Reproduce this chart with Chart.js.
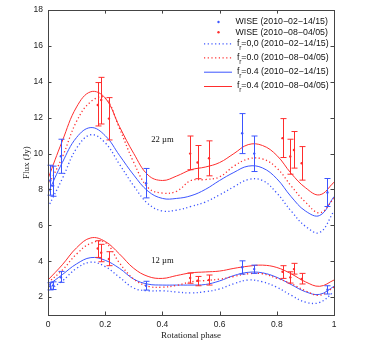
<!DOCTYPE html>
<html><head><meta charset="utf-8">
<script src="https://cdn.jsdelivr.net/npm/chart.js@4.4.0/dist/chart.umd.min.js"></script>
<style>html,body{margin:0;padding:0;background:#fff;}</style>
</head><body>
<canvas id="c" width="368" height="348" style="width:368px;height:348px;display:block"></canvas>
<script>
// ---- Data ----
const phaseGrid = [0,0.05,0.1,0.15,0.2,0.25,0.3,0.35,0.4,0.45,0.5,0.55,0.6,0.65,0.7,0.75,0.8,0.85,0.9,0.95,1.0];
// 22 micron model curves
const redSolid22  = [8.6,10.7,12.6,13.45,13.1,11.5,10.0,8.8,8.5,8.75,9.1,9.25,9.5,10.0,10.5,10.45,9.9,8.9,8.1,7.7,8.4];
const redDot22    = [8.2,9.8,11.8,12.9,13.1,11.4,9.5,8.1,7.8,7.9,8.5,8.55,8.7,9.3,9.7,9.7,9.2,8.2,7.3,6.7,7.5];
const blueSolid22 = [7.8,9.5,10.9,11.45,11.0,9.9,8.8,7.9,7.5,7.5,7.65,8.0,8.5,8.95,9.3,9.2,8.6,7.6,6.8,6.55,7.6];
const blueDot22   = [7.0,8.6,10.3,11.05,10.6,9.4,8.2,7.2,6.8,6.85,7.05,7.3,7.7,8.15,8.55,8.5,7.8,6.8,5.95,5.6,6.8];
// 12 micron model curves
const redSolid12  = [2.95,3.8,4.75,5.3,5.1,4.4,3.6,3.15,3.04,3.2,3.35,3.4,3.45,3.6,3.72,3.78,3.65,3.3,2.85,2.6,2.95];
const redDot12    = [2.8,3.5,4.4,5.0,5.05,3.9,3.0,2.6,2.55,2.65,2.85,2.92,3.0,3.15,3.3,3.3,3.05,2.75,2.35,2.1,2.55];
const blueSolid12 = [2.65,3.25,3.85,4.2,4.05,3.6,3.0,2.72,2.67,2.67,2.67,2.7,2.9,3.2,3.38,3.35,3.1,2.7,2.3,2.15,2.6];
const blueDot12   = [2.35,2.9,3.6,3.95,3.7,3.1,2.5,2.35,2.35,2.28,2.23,2.3,2.45,2.75,2.95,2.85,2.55,2.1,1.72,1.7,2.3];
// WISE observations, Feb 2010 (blue)
const febPhase   = [0.008,0.018,0.045,0.343,0.679,0.721,0.977];
const febFlux22  = [8.5,8.2,9.85,8.35,11.13,10.0,7.83];
const febLo22    = [7.68,7.62,8.9,7.53,10.0,9.0,7.05];
const febHi22    = [9.35,9.3,10.8,9.17,12.23,10.98,8.61];
const febFlux12  = [2.6,2.65,3.1,2.63,3.66,3.56,2.41];
const febLo12    = [2.4,2.42,2.82,2.39,3.28,3.32,2.17];
const febHi12    = [2.8,2.85,3.43,2.88,4.02,3.78,2.63];
// WISE observations, Aug 2010 (red)
const augPhase   = [0.174,0.186,0.213,0.497,0.523,0.563,0.820,0.847,0.860,0.887];
const augFlux22  = [12.71,12.99,11.95,10.0,9.5,9.74,10.86,9.84,10.2,9.46];
const augLo22    = [11.54,11.65,10.76,9.1,8.6,8.76,9.78,8.85,9.19,8.52];
const augHi22    = [13.96,14.25,13.12,10.98,10.45,10.71,11.95,10.8,11.23,10.39];
const augFlux12  = [4.71,4.47,4.12,3.06,2.91,2.95,3.41,3.10,3.56,3.01];
const augLo12    = [4.21,3.97,3.75,2.77,2.63,2.67,3.04,2.78,3.28,2.73];
const augHi12    = [5.14,4.94,4.53,3.34,3.15,3.23,3.75,3.41,3.88,3.32];
const xTicks = [0,0.2,0.4,0.6,0.8,1];
const yTicks = [2,4,6,8,10,12,14,16,18];
const legendLabels = ['WISE (2010\u221202\u221214/15)','WISE (2010\u221208\u221204/05)',
  '=0,0 (2010\u221202\u221214/15)','=0.0 (2010\u221208\u221204/05)',
  '=0.4 (2010\u221202\u221214/15)','=0.4 (2010\u221208\u221204/05)'];
const bandLabels = [{text:'22 \u00b5m', x:0.4, y:10.75},{text:'12 \u00b5m', x:0.4, y:4.05}];

// ---- Styles ----
const BLUE = 'rgb(60,85,255)';
const RED = 'rgb(255,45,45)';
const DOT = [1.2, 2.5];

const pts = (xs, ys) => xs.map((x, i) => ({x, y: ys[i]}));
function curve(ys, color, dotted) {
  return {type:'line', data: pts(phaseGrid, ys), borderColor: color, backgroundColor: color,
    borderWidth: dotted ? 1.3 : 1, borderDash: dotted ? DOT : [], pointRadius: 0, tension: 0.4,
    fill: false, borderCapStyle: 'butt'};
}
function obs(xs, ys, lo, hi, color) {
  return {type:'line', showLine:false, data: pts(xs, ys), borderColor: color, backgroundColor: color,
    pointRadius: 1.2, pointBorderWidth: 0, errLo: lo, errHi: hi};
}

const datasets = [
  obs(febPhase, febFlux22, febLo22, febHi22, BLUE),
  obs(augPhase, augFlux22, augLo22, augHi22, RED),
  curve(blueDot22, BLUE, true),
  curve(redDot22, RED, true),
  curve(blueSolid22, BLUE, false),
  curve(redSolid22, RED, false),
  obs(febPhase, febFlux12, febLo12, febHi12, BLUE),
  obs(augPhase, augFlux12, augLo12, augHi12, RED),
  curve(blueDot12, BLUE, true),
  curve(redDot12, RED, true),
  curve(blueSolid12, BLUE, false),
  curve(redSolid12, RED, false),
];

const tickFont = {family: '"Liberation Sans", Arial, sans-serif', size: 8.5};
const titleFont = {family: '"Liberation Serif", "Times New Roman", serif', size: 9};

const custom = {
  id: 'custom',
  afterDatasetsDraw(chart) {
    const ctx = chart.ctx, xs = chart.scales.x, ys = chart.scales.y;
    chart.data.datasets.forEach(ds => {
      if (!ds.errLo) return;
      ctx.save();
      ctx.strokeStyle = ds.borderColor; ctx.lineWidth = 1;
      ds.data.forEach((p, j) => {
        const px = Math.round(xs.getPixelForValue(p.x)) + 0.5;
        const lo = ys.getPixelForValue(ds.errLo[j]), hi = ys.getPixelForValue(ds.errHi[j]);
        if (Math.abs(lo - hi) < 0.5) return;
        ctx.beginPath();
        ctx.moveTo(px, lo); ctx.lineTo(px, hi);
        ctx.moveTo(px - 3, lo); ctx.lineTo(px + 3, lo);
        ctx.moveTo(px - 3, hi); ctx.lineTo(px + 3, hi);
        ctx.stroke();
      });
      ctx.restore();
    });
  },
  afterDraw(chart) {
    const ctx = chart.ctx, xs = chart.scales.x, ys = chart.scales.y;
    const a = chart.chartArea;
    ctx.save();
    // frame
    ctx.strokeStyle = '#444'; ctx.lineWidth = 1;
    ctx.strokeRect(Math.round(a.left) + 0.5, Math.round(a.top) + 0.5,
      Math.round(a.right - a.left), Math.round(a.bottom - a.top));
    // inward ticks
    ctx.beginPath();
    xTicks.forEach(v => {
      const px = Math.round(xs.getPixelForValue(v)) + 0.5;
      ctx.moveTo(px, a.bottom); ctx.lineTo(px, a.bottom - 3.5);
      ctx.moveTo(px, a.top); ctx.lineTo(px, a.top + 3.5);
    });
    yTicks.forEach(v => {
      const py = Math.round(ys.getPixelForValue(v)) + 0.5;
      ctx.moveTo(a.left, py); ctx.lineTo(a.left + 3.5, py);
      ctx.moveTo(a.right, py); ctx.lineTo(a.right - 3.5, py);
    });
    ctx.stroke();
    // band labels
    ctx.fillStyle = '#111';
    ctx.font = '8.6px "Liberation Serif", "Times New Roman", serif';
    ctx.textAlign = 'center'; ctx.textBaseline = 'middle';
    bandLabels.forEach(b => ctx.fillText(b.text, xs.getPixelForValue(b.x), ys.getPixelForValue(b.y)));
    // legend
    const rowsY = [22, 32.3, 43.3, 57.3, 71.7, 86];
    const sampleX0 = 204, sampleX1 = 232, textX = 235.5;
    const font = '8.8px "Liberation Sans", Arial, sans-serif';
    ctx.textAlign = 'left';
    legendLabels.forEach((lab, i) => {
      const ds = chart.data.datasets[i];
      const y = rowsY[i];
      ctx.strokeStyle = ds.borderColor; ctx.fillStyle = ds.borderColor;
      if (ds.errLo) {
        ctx.beginPath(); ctx.arc(218.5, y, 1.2, 0, Math.PI * 2); ctx.fill();
      } else {
        ctx.lineWidth = ds.borderWidth; ctx.lineCap = 'butt';
        ctx.setLineDash(ds.borderDash);
        ctx.beginPath(); ctx.moveTo(sampleX0, y + 0.5); ctx.lineTo(sampleX1, y + 0.5); ctx.stroke();
        ctx.setLineDash([]);
      }
      ctx.fillStyle = '#111';
      if (ds.errLo) {
        ctx.font = font; ctx.fillText(lab, textX, y);
      } else {
        let x = textX + 1.5;
        ctx.font = font; ctx.fillText('f', x, y);
        x += ctx.measureText('f').width;
        ctx.font = '6.5px "Liberation Sans", Arial, sans-serif';
        ctx.fillText('r', x - 0.3, y + 4.5);
        x += ctx.measureText('r').width - 0.3;
        ctx.font = font; ctx.fillText(lab, x, y);
      }
    });
    ctx.restore();
  }
};

new Chart(document.getElementById('c'), {
  type: 'line',
  data: {datasets},
  options: {
    responsive: false, animation: false, devicePixelRatio: 1,
    layout: {padding: {top: 10, right: 34, left: 0, bottom: 0}},
    plugins: {legend: {display: false}, tooltip: {enabled: false}},
    scales: {
      x: {type: 'linear', min: 0, max: 1,
        afterBuildTicks: s => { s.ticks = xTicks.map(v => ({value: v})); },
        afterFit: s => { s.height = 33; },
        grid: {display: false, drawTicks: false}, border: {display: false},
        ticks: {font: tickFont, color: '#222', padding: 5, maxRotation: 0,
          callback: v => String(v)},
        title: {display: true, text: 'Rotational phase', font: titleFont, color: '#222',
          padding: {top: 0, bottom: 6.5}}},
      y: {type: 'linear', min: 1, max: 18,
        afterBuildTicks: s => { s.ticks = yTicks.map(v => ({value: v})); },
        afterFit: s => { s.width = 48; },
        grid: {display: false, drawTicks: false}, border: {display: false},
        ticks: {font: tickFont, color: '#222', padding: 5, callback: v => String(v)},
        title: {display: true, text: 'Flux (Jy)', font: titleFont, color: '#222',
          padding: {top: 21, bottom: 0}}}
    }
  },
  plugins: [custom]
});
</script>
</body></html>
